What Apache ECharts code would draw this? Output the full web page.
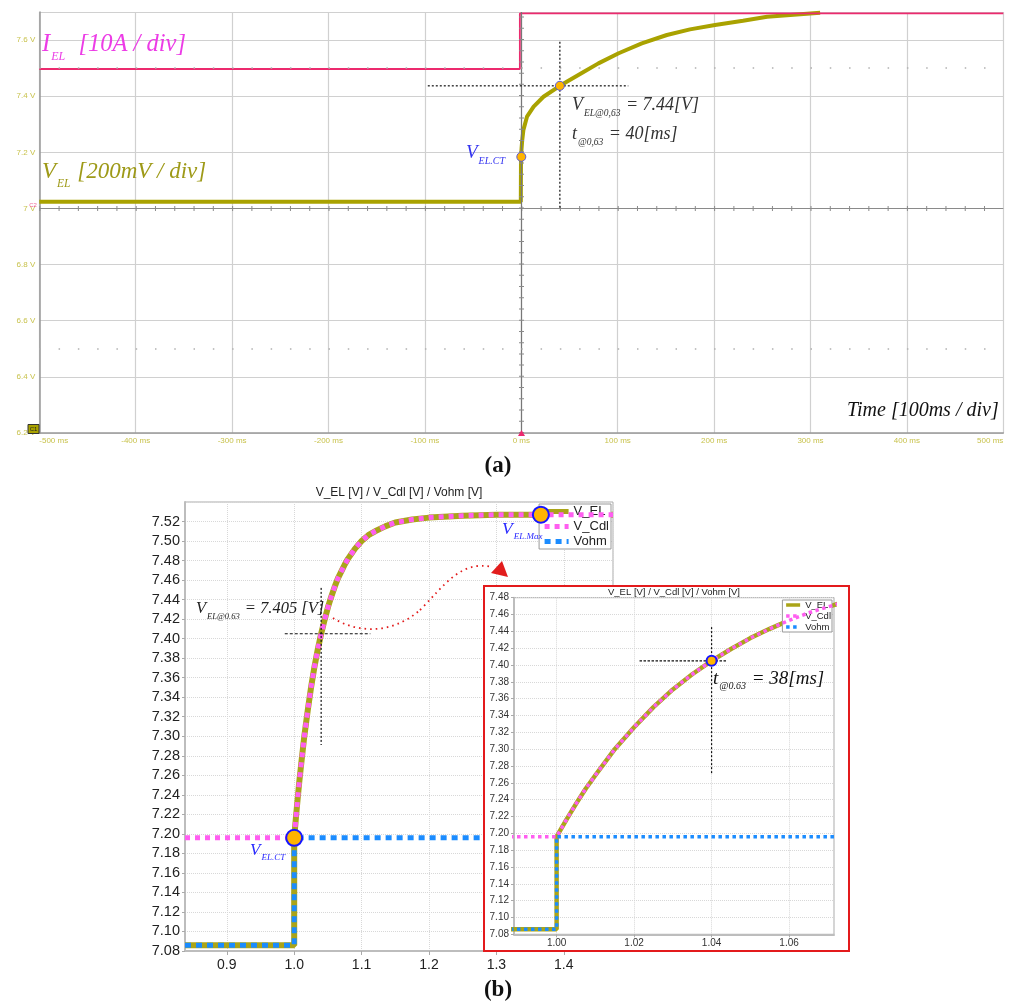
<!DOCTYPE html>
<html><head><meta charset="utf-8">
<script src="https://cdn.jsdelivr.net/npm/echarts@6/dist/echarts.min.js"></script>
<style>
html,body{margin:0;padding:0;background:#fff;}
#main{position:absolute;left:0;top:0;width:1010px;height:1007px;}
#inset{position:absolute;left:483px;top:585px;width:367px;height:367px;border:2px solid #e31a1c;box-sizing:border-box;background:#fff;}
</style></head><body>
<div id="main"></div><div id="inset"></div>
<script>
// ---------- DATA ----------
// Panel (a): oscilloscope capture, time in ms, value on the V scale
const scopeIEL = [[-500,7.497],[-1.5,7.497],[-1.5,7.695],[500,7.695]];
const scopeVEL = [[-500,7.024],[-0.5,7.024],[-0.3,7.184],[0.3,7.215],[1,7.245],[2.2,7.28],[5.9,7.327],[12.8,7.363],[23,7.398],[40,7.437],[65,7.487],[80,7.517],[101,7.553],[125,7.588],[151,7.618],[175,7.638],[201,7.654],[230,7.669],[255,7.683],[310,7.697]];
const scopeMarkers = [[0,7.184],[40,7.437]];
const scopeCrossH = [[-97,7.437],[111,7.437]];
const scopeCrossV = [[40,7.594],[40,7.0]];

// Panel (b): simulated response, time in s
const tBefore = [0.838, 1.0];
const vElBefore = 7.086;
const vCdlBefore = 7.196;
const curveT = [1.000,1.0025,1.005,1.0075,1.010,1.015,1.020,1.025,1.030,1.035,1.040,1.045,1.050,1.055,1.060,1.065,1.070,1.075,1.080,1.090,1.100,1.110,1.120,1.135,1.150,1.175,1.200,1.250,1.300,1.366,1.473];
const curveV = [7.196,7.216,7.235,7.253,7.269,7.300,7.326,7.350,7.371,7.389,7.405,7.419,7.432,7.443,7.453,7.462,7.469,7.476,7.482,7.492,7.500,7.506,7.510,7.515,7.519,7.522,7.524,7.526,7.527,7.527,7.527];
const vOhmAfter = 7.196;
const markerCT = [1.0, 7.196];
const markerMax = [1.366, 7.527];
const marker063 = [1.04, 7.405];
const mainCrossH = [[0.986,7.405],[1.113,7.405]];
const mainCrossV = [[1.04,7.452],[1.04,7.291]];
const insetCrossH = [[1.0214,7.405],[1.0438,7.405]];
const insetCrossV = [[1.04,7.445],[1.04,7.27]];
const legendNames = ['V_EL','V_Cdl','Vohm'];

// ---------- build series data ----------
const curve = curveT.map((t,i)=>[t,curveV[i]]);
const vEL = [[tBefore[0],vElBefore],[tBefore[1],vElBefore]].concat(curve);
const vCdl = [[tBefore[0],vCdlBefore],[tBefore[1],vCdlBefore]].concat(curve);
const vOhm = [[tBefore[0],vElBefore],[tBefore[1],vElBefore],[tBefore[1],vOhmAfter],[curveT[curveT.length-1],vOhmAfter]];

const COL = {olive:'#aaa418', pink:'#ff5ef0', blue:'#1b8cff', scopeV:'#a9a200', scopeI:'#ec2a6e', marker:'#ffb400', markerEdge:'#1616ff'};
const SERIF = 'Liberation Serif';
const SANS = 'Liberation Sans';

function mathText(x, y, segs, o) {
  const S = o.size, s = o.sub, mLH = Math.round(S*1.2), sLH = Math.round(s*1.2);
  const pad = Math.max(0, o.shift + mLH/2 - sLH/2);
  let txt = '';
  segs.forEach(seg => { txt += seg[0] === '_' ? '{s|' + seg.slice(1) + '}' : '{m|' + seg + '}'; });
  return { type:'text', x:x, y:y, z:100, silent:true, style:{ text:txt, align:'left', verticalAlign:'top', rich:{
    m:{fontFamily:SERIF, fontStyle:'italic', fontSize:S, lineHeight:mLH, fill:o.color, verticalAlign:'top'},
    s:{fontFamily:SERIF, fontStyle:'italic', fontSize:s, lineHeight:sLH, fill:o.color, verticalAlign:'top', padding:[pad,1,0,1]}
  }}};
}
function lineSeries(name, data, xi, color, width, type, z) {
  return {name:name, type:'line', xAxisIndex:xi, yAxisIndex:xi, data:data, symbol:'none', silent:true, z:z,
    lineStyle:{color:color, width:width, type:type||'solid'}, itemStyle:{color:color}, animation:false};
}
function markerSeries(name, data, xi, size, bw, edge) {
  return {name:name, type:'scatter', xAxisIndex:xi, yAxisIndex:xi, data:data, symbolSize:size, silent:true, z:20,
    itemStyle:{color:COL.marker, borderColor:edge, borderWidth:bw, opacity:1}, animation:false};
}

const chart = echarts.init(document.getElementById('main'));
const scopeLbl = '#c8c24c';
const optA = {
  animation:false,
  grid:[
    {left:39.3, top:12, width:964, height:421},
    {left:185, top:502, width:428, height:449, show:true, borderColor:'#aaa', borderWidth:1, backgroundColor:'rgba(0,0,0,0)'}
  ],
  xAxis:[
    {type:'value', gridIndex:0, min:-500, max:500, interval:100,
     axisLine:{show:true, onZero:false, lineStyle:{color:'#999', width:1.5}}, axisTick:{show:false},
     axisLabel:{color:scopeLbl, fontSize:8, fontFamily:SANS, margin:4, formatter:v=>v+' ms', alignMinLabel:'left', alignMaxLabel:'right'},
     splitLine:{show:true, lineStyle:{color:'#d0d0d0', width:1.2}}},
    {type:'value', gridIndex:1, min:0.838, max:1.473, splitNumber:6,
     axisLine:{show:true, onZero:false, lineStyle:{color:'#bdbdbd', width:2}}, axisTick:{show:true, length:4, lineStyle:{color:'#aaa'}},
     axisLabel:{color:'#222', fontSize:14, fontFamily:SANS, margin:7, showMinLabel:false, showMaxLabel:false, formatter:v=>v.toFixed(1)},
     splitLine:{show:true, lineStyle:{color:'#d8d8d8', type:'dotted'}}}
  ],
  yAxis:[
    {type:'value', gridIndex:0, min:6.2, max:7.7, interval:0.2,
     axisLine:{show:true, onZero:false, lineStyle:{color:'#999', width:1.5}}, axisTick:{show:false},
     axisLabel:{color:scopeLbl, fontSize:8, fontFamily:SANS, margin:4, showMaxLabel:false, formatter:v=>(Math.round(v*10)/10)+' V'},
     splitLine:{show:true, lineStyle:{color:'#d0d0d0', width:1.2}}},
    {type:'value', gridIndex:1, min:7.08, max:7.54, interval:0.02,
     axisLine:{show:true, onZero:false, lineStyle:{color:'#bdbdbd', width:2}}, axisTick:{show:true, length:3, lineStyle:{color:'#aaa'}},
     axisLabel:{color:'#222', fontSize:14.5, fontFamily:SANS, margin:5, showMaxLabel:false, formatter:v=>v.toFixed(2)},
     splitLine:{show:true, lineStyle:{color:'#d8d8d8', type:'dotted'}}}
  ],
  legend:{data:legendNames, orient:'vertical', right:399, top:504, itemWidth:24, itemHeight:8, itemGap:2,
    textStyle:{fontSize:13, color:'#222', fontFamily:SANS}, borderColor:'#999', borderWidth:1, borderRadius:0,
    padding:[1,2,1,3], backgroundColor:'#fff', lineStyle:{width:5}, itemStyle:{opacity:0, borderWidth:0}, selectedMode:false},
  series:[
    Object.assign(lineSeries('I_EL scope', scopeIEL, 0, COL.scopeI, 1.8, 'solid', 4), {
      markLine:{silent:true, symbol:['none','none'], label:{show:false}, animation:false, emphasis:{disabled:true},
        data:[
          [{coord:[-500,7]},{coord:[500,7], lineStyle:{color:'#8a8a8a', width:1, type:'solid'}}],
          [{coord:[-500,7]},{coord:[500,7], lineStyle:{color:'#8a8a8a', width:5, type:[1,18.28]}}],
          [{coord:[0,6.2]},{coord:[0,7.7], lineStyle:{color:'#777', width:1.2, type:'solid'}}],
          [{coord:[0,6.2]},{coord:[0,7.7], lineStyle:{color:'#8a8a8a', width:5, type:[1,10.23]}}],
          [{coord:[-500,7.5]},{coord:[500,7.5], lineStyle:{color:'#b0b0b0', width:1.5, type:[1.5,17.78]}}],
          [{coord:[-500,6.5]},{coord:[500,6.5], lineStyle:{color:'#b0b0b0', width:1.5, type:[1.5,17.78]}}]
        ]}
    }),
    lineSeries('V_EL scope', scopeVEL, 0, COL.scopeV, 4, 'solid', 3),
    lineSeries('scope cross H', scopeCrossH, 0, '#222', 1.3, [2,2], 6),
    lineSeries('scope cross V', scopeCrossV, 0, '#222', 1.3, [2,2], 6),
    markerSeries('scope markers', scopeMarkers, 0, 9, 1, '#5a5ad8'),
    lineSeries('V_EL', vEL, 1, COL.olive, 6, 'solid', 3),
    lineSeries('V_Cdl', vCdl, 1, COL.pink, 5, [5,5], 4),
    lineSeries('Vohm', vOhm, 1, COL.blue, 5, [6,5], 5),
    lineSeries('main cross H', mainCrossH, 1, '#111', 1.2, [3,2], 6),
    lineSeries('main cross V', mainCrossV, 1, '#111', 1.2, [2,2], 6),
    markerSeries('main markers', [markerCT, markerMax], 1, 16, 2, COL.markerEdge)
  ],
  graphic:[
    mathText(42, 32, ['I','_EL','  [10A / div]'], {size:24.5, sub:12, shift:11, color:'#ec3ce6'}),
    mathText(42, 160, ['V','_EL',' [200mV / div]'], {size:23, sub:11.5, shift:11, color:'#9e9a18'}),
    mathText(466, 143, ['V','_EL.CT'], {size:19, sub:10, shift:8, color:'#3434f0'}),
    mathText(572, 96, ['V','_EL@0,63',' = 7.44[V]'], {size:18, sub:9.5, shift:7, color:'#333'}),
    mathText(572, 125, ['t','_@0,63',' = 40[ms]'], {size:18, sub:9.5, shift:7, color:'#333'}),
    mathText(847, 401, ['Time [100ms / div]'], {size:20, sub:10, shift:0, color:'#111'}),
    mathText(196, 600, ['V','_EL@0.63',' = 7.405 [V]'], {size:16.5, sub:8.5, shift:7, color:'#222'}),
    mathText(502, 520, ['V','_EL.Max'], {size:17.5, sub:9, shift:7, color:'#2a2aff'}),
    mathText(250, 842, ['V','_EL.CT'], {size:17, sub:9, shift:7, color:'#2a2aff'}),
    {type:'text', x:399, y:487, z:100, silent:true, style:{text:'V_EL [V] / V_Cdl [V] / Vohm [V]', align:'center', verticalAlign:'top', fontSize:12, fontFamily:SANS, fill:'#222'}},
    {type:'text', x:498, y:455, z:100, silent:true, style:{text:'(a)', align:'center', verticalAlign:'top', fontSize:23, fontWeight:'bold', fontFamily:SERIF, fill:'#111'}},
    {type:'text', x:498, y:979, z:100, silent:true, style:{text:'(b)', align:'center', verticalAlign:'top', fontSize:23, fontWeight:'bold', fontFamily:SERIF, fill:'#111'}},
    {type:'rect', z:100, silent:true, shape:{x:28, y:424.5, width:11, height:9}, style:{fill:'#a9a200', stroke:'#333', lineWidth:1}},
    {type:'text', x:33.5, y:429, z:101, silent:true, style:{text:'C1', align:'center', verticalAlign:'middle', fontSize:6, fontFamily:SANS, fill:'#222'}},
    {type:'text', x:33, y:205, z:101, silent:true, style:{text:'C2', align:'center', verticalAlign:'middle', fontSize:6, fontFamily:SANS, fill:'#f06090'}},
    {type:'polygon', z:100, silent:true, shape:{points:[[521.5,430],[518,436],[525,436]]}, style:{fill:'#ec2a6e'}},
    {type:'bezierCurve', z:100, silent:true, shape:{x1:333, y1:618, cpx1:355, cpy1:632, cpx2:390, cpy2:636, x2:420, y2:610}, style:{fill:null, stroke:'#e21d1d', lineWidth:1.8, lineDash:[1.6,4]}},
    {type:'bezierCurve', z:100, silent:true, shape:{x1:420, y1:610, cpx1:445, cpy1:585, cpx2:460, cpy2:560, x2:493, y2:567}, style:{fill:null, stroke:'#e21d1d', lineWidth:1.8, lineDash:[1.6,4]}},
    {type:'polygon', z:100, silent:true, shape:{points:[[502,561],[491,573],[508,577]]}, style:{fill:'#e21d1d'}}
  ]
};
chart.setOption(optA);

// ---------- inset ----------
const inset = echarts.init(document.getElementById('inset'));
const optB = {
  animation:false,
  grid:{left:29, top:10.7, width:320, height:336.6, show:true, borderColor:'#aaa', borderWidth:1, backgroundColor:'rgba(0,0,0,0)'},
  xAxis:{type:'value', min:0.989, max:1.0716, splitNumber:4,
    axisLine:{show:true, onZero:false, lineStyle:{color:'#bdbdbd', width:2}}, axisTick:{show:true, length:3, lineStyle:{color:'#aaa'}},
    axisLabel:{color:'#333', fontSize:10, fontFamily:SANS, margin:4, showMinLabel:false, showMaxLabel:false, formatter:v=>v.toFixed(2)},
    splitLine:{show:true, lineStyle:{color:'#d8d8d8', type:'dotted'}}},
  yAxis:{type:'value', min:7.08, max:7.48, interval:0.02,
    axisLine:{show:true, onZero:false, lineStyle:{color:'#bdbdbd', width:2}}, axisTick:{show:true, length:3, lineStyle:{color:'#aaa'}},
    axisLabel:{color:'#333', fontSize:10, fontFamily:SANS, margin:5, formatter:v=>v.toFixed(2)},
    splitLine:{show:true, lineStyle:{color:'#d8d8d8', type:'dotted'}}},
  legend:{data:legendNames, orient:'vertical', right:16, top:13, itemWidth:14, itemHeight:5, itemGap:1,
    textStyle:{fontSize:9.5, color:'#222', fontFamily:SANS}, borderColor:'#999', borderWidth:1, borderRadius:0,
    padding:[0,1,0,2], backgroundColor:'#fff', lineStyle:{width:3.5}, itemStyle:{opacity:0, borderWidth:0}, selectedMode:false},
  series:[
    lineSeries('V_EL', vEL, 0, COL.olive, 4.5, 'solid', 3),
    lineSeries('V_Cdl', vCdl, 0, COL.pink, 3.5, [3.5,3.5], 4),
    lineSeries('Vohm', vOhm, 0, COL.blue, 3.5, [3.5,3.5], 5),
    lineSeries('inset cross H', insetCrossH, 0, '#111', 1.2, [2.5,1.5], 6),
    lineSeries('inset cross V', insetCrossV, 0, '#111', 1.2, [2,2], 6),
    markerSeries('inset marker', [marker063], 0, 10, 2, COL.markerEdge)
  ],
  graphic:[
    {type:'text', x:189, y:0, z:100, silent:true, style:{text:'V_EL [V] / V_Cdl [V] / Vohm [V]', align:'center', verticalAlign:'top', fontSize:9.5, fontFamily:SANS, fill:'#222'}},
    mathText(228, 82, ['t','_@0.63',' = 38[ms]'], {size:19, sub:10, shift:7, color:'#111'})
  ]
};
inset.setOption(optB);
</script>
</body></html>
